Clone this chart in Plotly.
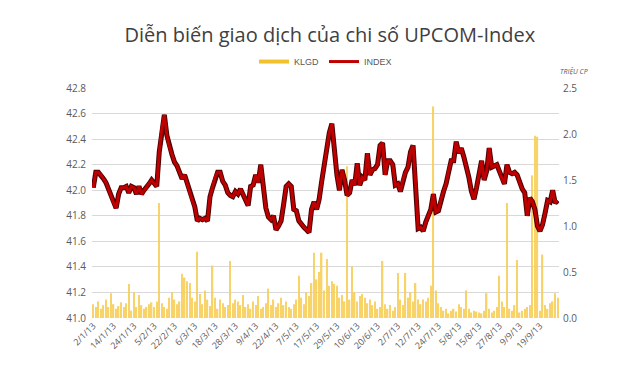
import pandas as pd
import plotly.graph_objects as go

# ---- data ----
HOLIDAYS = ["2013-01-01", "2013-02-11", "2013-02-12", "2013-02-13", "2013-02-14",
            "2013-02-15", "2013-04-19", "2013-04-29", "2013-04-30", "2013-05-01",
            "2013-09-02"]
DATES = pd.bdate_range("2013-01-02", "2013-09-30", freq="C", holidays=HOLIDAYS)
CATEGORIES = [f"{d.day}/{d.month}/{d.strftime('%y')}" for d in DATES]

INDEX = [
    42.02, 42.14, 42.14, 42.12, 42.09, 42.06, 42.01, 41.95, 41.90, 41.86,
    41.97, 42.02, 42.02, 42.03, 41.98, 42.03, 42.02, 41.97, 42.03, 41.97,
    42.00, 42.02, 42.05, 42.08, 42.05, 42.03, 42.30, 42.48, 42.59, 42.43,
    42.34, 42.28, 42.22, 42.19, 42.14, 42.09, 42.12, 42.05, 41.98, 41.92,
    41.87, 41.76, 41.78, 41.77, 41.78, 41.76, 41.95, 42.02, 42.10, 42.14,
    42.14, 42.07, 42.04, 41.98, 41.96, 41.95, 41.99, 41.97, 42.01, 41.97,
    41.93, 41.88, 42.03, 42.04, 42.12, 42.06, 42.20, 42.02, 41.86, 41.79,
    41.77, 41.80, 41.69, 41.72, 41.76, 41.89, 42.03, 42.05, 42.03, 41.85,
    41.84, 41.76, 41.73, 41.71, 41.69, 41.67, 41.85, 41.91, 41.85, 41.93,
    42.07, 42.20, 42.33, 42.45, 42.52, 42.30, 42.12, 42.00, 42.16, 42.08,
    41.96, 41.98, 42.08, 42.04, 42.21, 42.04, 42.10, 42.08, 42.29, 42.12,
    42.16, 42.17, 42.20, 42.35, 42.37, 42.12, 42.23, 42.23, 42.20, 42.04,
    42.05, 41.99, 42.08, 42.14, 42.18, 42.30, 42.35, 42.06, 41.70, 41.71,
    41.68, 41.75, 41.80, 41.85, 41.97, 41.83, 41.84, 41.93, 41.99, 42.05,
    42.15, 42.23, 42.23, 42.38, 42.29, 42.33, 42.26, 42.19, 42.10, 41.99,
    41.93, 42.02, 42.14, 42.23, 42.08, 42.15, 42.33, 42.18, 42.19, 42.20,
    42.15, 42.09, 42.05, 42.20, 42.14, 42.13, 42.14, 42.12, 42.06, 42.01,
    41.98, 41.80, 41.94, 41.91, 41.85, 41.72, 41.68, 41.73, 41.82, 41.92,
    41.91, 42.00, 41.90, 41.92,
]

KLGD = [
    0.15, 0.12, 0.18, 0.10, 0.14, 0.20, 0.12, 0.27, 0.15, 0.10,
    0.13, 0.17, 0.12, 0.16, 0.37, 0.08, 0.28, 0.12, 0.25, 0.14,
    0.10, 0.12, 0.15, 0.17, 0.12, 0.18, 1.25, 0.16, 0.12, 0.10,
    0.22, 0.28, 0.20, 0.15, 0.18, 0.48, 0.44, 0.40, 0.38, 0.22,
    0.18, 0.72, 0.26, 0.15, 0.30, 0.20, 0.13, 0.57, 0.22, 0.10,
    0.20, 0.16, 0.12, 0.14, 0.62, 0.16, 0.20, 0.18, 0.14, 0.25,
    0.12, 0.15, 0.10, 0.18, 0.14, 0.24, 0.10, 0.12, 0.16, 0.32,
    0.14, 0.20, 0.12, 0.16, 0.22, 0.14, 0.18, 0.12, 0.10, 0.15,
    0.20, 0.46, 0.22, 0.15, 0.28, 0.24, 0.38, 0.71, 0.42, 0.50,
    0.71, 0.30, 0.64, 0.35, 0.40, 0.37, 0.35, 0.22, 0.25, 0.18,
    1.65, 0.20, 0.56, 0.28, 0.18, 0.24, 0.26, 0.22, 0.16, 0.20,
    0.14, 0.18, 0.10, 0.12, 0.62, 0.15, 0.10, 0.14, 0.08, 0.12,
    0.49, 0.20, 0.14, 0.49, 0.22, 0.28, 0.18, 0.38, 0.20, 0.15,
    0.20, 0.18, 0.22, 0.35, 2.30, 0.30, 0.16, 0.12, 0.08, 0.10,
    0.05, 0.08, 0.10, 0.07, 0.15, 0.12, 0.10, 0.30, 0.10, 0.06,
    0.08, 0.07, 0.06, 0.05, 0.08, 0.27, 0.10, 0.06, 0.08, 0.12,
    0.46, 0.18, 0.12, 1.25, 0.10, 0.08, 0.14, 0.63, 0.06, 0.08,
    0.10, 0.12, 0.14, 1.55, 1.98, 1.97, 0.08, 0.69, 0.14, 0.10,
    0.16, 0.18, 0.27, 0.22,
]

TICK_STEP = 8
TICK_VALS = CATEGORIES[::TICK_STEP]
TICK_TEXT = TICK_VALS

LEFT_RANGE = [41.0, 42.8]
RIGHT_RANGE = [0.0, 2.5]

TITLE = "Diễn biến giao dịch của chi số UPCOM-Index"
UNIT = "TRIỆU CP"

# ---- styles ----
BAR_COLOR = "#F7CF5A"
LEGEND_YELLOW = "#F2C12E"
RED = "#C00000"
DARK = "#4A0000"
GRID = "#D9D9D9"
TXT = "#595959"

fig = go.Figure()

fig.add_trace(go.Bar(x=CATEGORIES, y=KLGD, name="KLGD", marker_color=BAR_COLOR,
                     marker_line_width=0, opacity=0.9, yaxis="y", showlegend=False))
fig.add_trace(go.Scatter(x=[None], y=[None], mode="lines", name="KLGD",
                         line=dict(color=LEGEND_YELLOW, width=4), yaxis="y"))
fig.add_trace(go.Scatter(x=CATEGORIES, y=INDEX, mode="lines", showlegend=False,
                         line=dict(color=DARK, width=5), yaxis="y2", hoverinfo="skip"))
fig.add_trace(go.Scatter(x=CATEGORIES, y=INDEX, mode="lines", name="INDEX",
                         line=dict(color=RED, width=3), yaxis="y2"))

fig.update_layout(
    width=620, height=367,
    margin=dict(l=92, r=61, t=88, b=49),
    paper_bgcolor="white", plot_bgcolor="white",
    font=dict(family="Open Sans", color=TXT, size=10),
    title=dict(text=TITLE, x=0.532, xanchor="center", y=0.905, yanchor="middle",
               font=dict(family="Open Sans", size=20, color="#404040")),
    bargap=0.45,
    showlegend=True,
    legend=dict(orientation="h", x=0.5, xanchor="center", y=1.115, yanchor="middle",
                font=dict(size=9, color=TXT, family="Liberation Sans"),
                itemwidth=30, tracegroupgap=0, bgcolor="rgba(0,0,0,0)"),
    xaxis=dict(type="category", range=[-0.5, len(CATEGORIES) - 0.5],
               tickmode="array", tickvals=TICK_VALS, ticktext=TICK_TEXT,
               tickangle=-45, tickfont=dict(size=9, color=TXT),
               showgrid=False, showline=False, ticks=""),
    yaxis=dict(side="right", range=RIGHT_RANGE, dtick=0.5, tickformat=".1f",
               showgrid=False, zeroline=False, ticks="", ticklabelstandoff=3,
               tickfont=dict(size=10, color=TXT)),
    yaxis2=dict(side="left", overlaying="y", range=LEFT_RANGE, dtick=0.2, tickformat=".1f",
                showgrid=True, gridcolor=GRID, gridwidth=1, zeroline=False, ticks="",
                ticklabelstandoff=5, tickfont=dict(size=10, color=TXT)),
    annotations=[dict(text=f"<i>{UNIT}</i>", xref="paper", yref="paper", x=1.032, y=1.072,
                      xanchor="center", yanchor="middle", showarrow=False,
                      font=dict(size=7, color=TXT))],
)

fig.write_html("out.html")
